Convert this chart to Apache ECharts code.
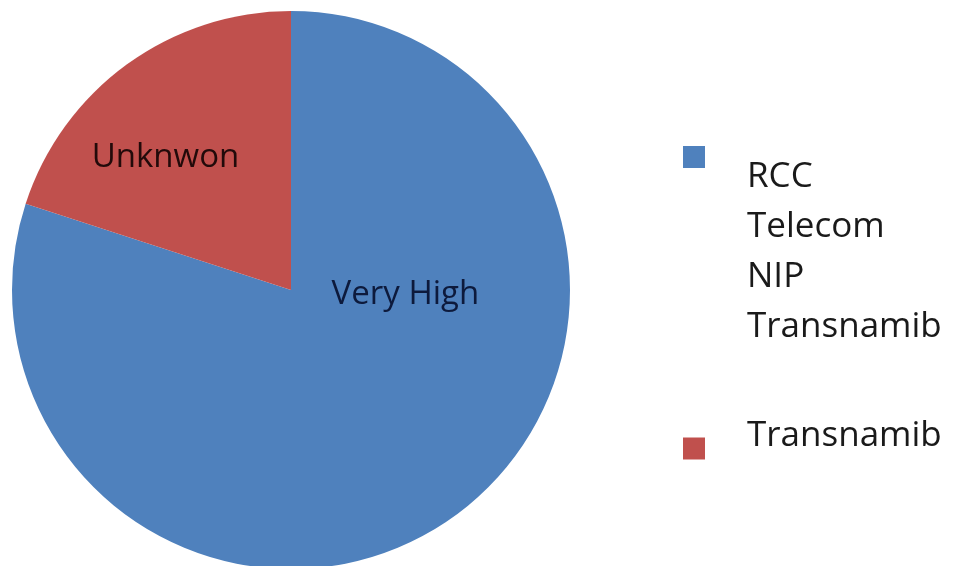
<!DOCTYPE html>
<html>
<head>
<meta charset="utf-8">
<script src="https://cdn.jsdelivr.net/npm/echarts@6/dist/echarts.min.js"></script>
<style>
html,body{margin:0;padding:0;background:#fff;}
#chart{width:957px;height:566px;}
</style>
</head>
<body>
<div id="chart"></div>
<script>
// Data
const categories = ['RCC\nTelecom\nNIP\nTransnamib', 'Transnamib'];
const values = [80, 20];
const sliceLabels = ['Very High', 'Unknwon'];

const colors = ['#4F81BD', '#C0504D'];
const labelColors = ['#0d1a3c', '#220a0a'];

// Pie geometry
const cx = 291, cy = 290, R = 279;
// label placement relative to pie center, as fractions of radius
const labelFx = [0.41, -0.45];
const labelFy = [0.018, -0.475];

const chart = echarts.init(document.getElementById('chart'), null, {renderer: 'canvas'});

const richStyles = {
  t: {fontFamily: 'Open Sans', fontSize: 35, color: '#1a1a1a', lineHeight: 50, padding: [0, 0, 0, 37]},
  top: {fontSize: 10, lineHeight: 190},
  bot: {fontSize: 10, lineHeight: 24}
};

function legendFormatter(name) {
  const lines = name.split('\n').map(s => '{t|' + s + '}');
  if (name === categories[0]) return '{top| }\n' + lines.join('\n');
  return lines.join('\n') + '\n{bot| }';
}

chart.setOption({
  animation: false,
  backgroundColor: '#ffffff',
  color: colors,
  legend: [
    {
      data: [categories[0]],
      orient: 'vertical',
      left: 683,
      top: 52,
      padding: 0,
      itemWidth: 22,
      itemHeight: 22,
      icon: 'rect',
      selectedMode: false,
      formatter: legendFormatter,
      textStyle: {rich: richStyles}
    },
    {
      data: [categories[1]],
      orient: 'vertical',
      left: 683,
      top: 419,
      padding: 0,
      itemWidth: 22,
      itemHeight: 22,
      icon: 'rect',
      selectedMode: false,
      formatter: legendFormatter,
      textStyle: {rich: richStyles}
    }
  ],
  series: [{
    type: 'pie',
    center: [cx, cy],
    radius: [0, R],
    startAngle: 90,
    clockwise: true,
    avoidLabelOverlap: false,
    data: categories.map((n, i) => ({
      name: n,
      value: values[i],
      itemStyle: {color: colors[i]},
      label: {color: labelColors[i]}
    })),
    itemStyle: {borderWidth: 0},
    label: {
      show: true,
      position: 'inside',
      fontFamily: 'Open Sans',
      fontSize: 33,
      formatter: p => sliceLabels[p.dataIndex]
    },
    labelLine: {show: false},
    labelLayout: function (params) {
      const i = params.dataIndex;
      return {
        x: cx + labelFx[i] * R,
        y: cy + labelFy[i] * R,
        align: 'center',
        verticalAlign: 'middle'
      };
    },
    emphasis: {disabled: true}
  }]
});
</script>
</body>
</html>
